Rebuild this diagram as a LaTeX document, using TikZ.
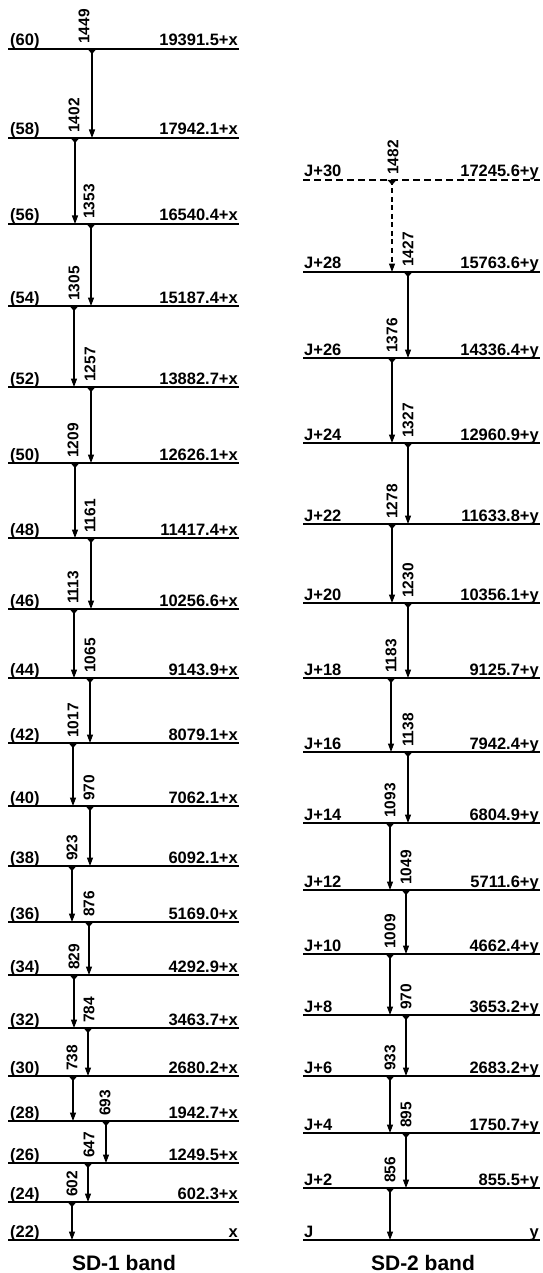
\documentclass[tikz,border=0pt]{standalone}
\usepackage{fontspec}
\setmainfont{Liberation Sans}
\usetikzlibrary{arrows.meta}
\tikzset{
  lvl/.style={line width=1.6pt},
  lvldash/.style={line width=1.6pt, dash pattern=on 7pt off 4pt},
  lvllab/.style={inner sep=0pt, font=\fontsize{16.5}{18}\selectfont\bfseries},
  trans/.style={line width=1.1pt, -{Triangle[width=6pt,length=8.5pt]}},
  transdash/.style={trans, dash pattern=on 5pt off 3.5pt},
  marker/.style={fill=black},
  tlab/.style={inner sep=0pt, rotate=90, anchor=west, font=\fontsize{15.5}{17}\selectfont\bfseries},
  title/.style={inner sep=0pt, font=\fontsize{21}{24}\selectfont\bfseries}
}
\begin{document}
\begin{tikzpicture}[x=1pt,y=-1pt]
\useasboundingbox (0,0) rectangle (542,1273);
% ---- SD-1 band levels
\foreach \n/\yy/\e in {60/49/19391.5+x,58/138/17942.1+x,56/224/16540.4+x,54/306/15187.4+x,
  52/387/13882.7+x,50/463/12626.1+x,48/538/11417.4+x,46/609/10256.6+x,44/678/9143.9+x,
  42/743/8079.1+x,40/806/7062.1+x,38/866/6092.1+x,36/922/5169.0+x,34/975/4292.9+x,
  32/1028/3463.7+x,30/1076/2680.2+x,28/1121/1942.7+x,26/1163/1249.5+x,24/1202/602.3+x,22/1240/x}{
  \coordinate (La\n) at (8,\yy);
  \coordinate (Lb\n) at (239,\yy);
  \draw[lvl] (La\n) -- (Lb\n);
  \node[lvllab, anchor=base west] (Ln\n) at ([xshift=2pt,yshift=3pt]La\n) {(\n)};
  \node[lvllab, anchor=base east] (Le\n) at ([xshift=-1pt,yshift=3pt]Lb\n) {\e};
}
% ---- SD-1 band transitions
\foreach \lab/\xx/\ya/\yb/\lx in {1449/92/49/138/84,1402/75/138/224/74,1353/91/224/306/89,
  1305/74/306/387/74,1257/91/387/463/90,1209/75/463/538/73,1161/91/538/609/90,1113/74/609/678/73,
  1065/90/678/743/90,1017/73/743/806/73,970/90/806/866/89,923/72/866/922/72,876/89/922/975/89,
  829/74/975/1028/74,784/88/1028/1076/89,738/73/1076/1121/72,693/106/1121/1163/105,
  647/88/1163/1202/89,602/72/1202/1240/72}{
  \coordinate (Ls\lab) at (\xx,\ya);
  \coordinate (Lt\lab) at (\xx,\yb);
  \draw[trans] (Ls\lab) -- (Lt\lab);
  \fill[marker] ([xshift=-4.5pt]Ls\lab) -- ([xshift=4.5pt]Ls\lab) -- ([yshift=-5pt]Ls\lab) -- cycle;
  \node[tlab] (Lx\lab) at (\lx,\ya-5) {\lab};
}
% ---- SD-2 band levels
\coordinate (RaJ30) at (303,180);
\coordinate (RbJ30) at (540,180);
\draw[lvldash] (RaJ30) -- (RbJ30);
\node[lvllab, anchor=base west] (RnJ30) at ([xshift=1pt,yshift=3pt]RaJ30) {J+30};
\node[lvllab, anchor=base east] (ReJ30) at ([xshift=-1pt,yshift=3pt]RbJ30) {17245.6+y};
\foreach \n/\yy/\e in {28/272/15763.6+y,26/358/14336.4+y,24/443/12960.9+y,22/524/11633.8+y,
  20/603/10356.1+y,18/678/9125.7+y,16/752/7942.4+y,14/823/6804.9+y,12/890/5711.6+y,
  10/954/4662.4+y,8/1015/3653.2+y,6/1076/2683.2+y,4/1133/1750.7+y,2/1188/855.5+y}{
  \coordinate (RaJ\n) at (303,\yy);
  \coordinate (RbJ\n) at (540,\yy);
  \draw[lvl] (RaJ\n) -- (RbJ\n);
  \node[lvllab, anchor=base west] (RnJ\n) at ([xshift=1pt,yshift=3pt]RaJ\n) {J+\n};
  \node[lvllab, anchor=base east] (ReJ\n) at ([xshift=-1pt,yshift=3pt]RbJ\n) {\e};
}
\coordinate (RaJ0) at (303,1240);
\coordinate (RbJ0) at (540,1240);
\draw[lvl] (RaJ0) -- (RbJ0);
\node[lvllab, anchor=base west] (RnJ0) at ([xshift=1pt,yshift=3pt]RaJ0) {J};
\node[lvllab, anchor=base east] (ReJ0) at ([xshift=-1pt,yshift=3pt]RbJ0) {y};
% ---- SD-2 band transitions
\coordinate (Rs1482) at (392,180);
\coordinate (Rt1482) at (392,272);
\draw[transdash] (Rs1482) -- (Rt1482);
\fill[marker] ([xshift=-4.5pt]Rs1482) -- ([xshift=4.5pt]Rs1482) -- ([yshift=-5pt]Rs1482) -- cycle;
\node[tlab] (Rx1482) at (393,175) {1482};
\foreach \lab/\xx/\ya/\yb in {1427/408/272/358,1376/392/358/443,1327/408/443/524,1278/392/524/603,
  1230/408/603/678,1183/391/678/752,1138/408/752/823,1093/390/823/890,1049/406/890/954,
  1009/390/954/1015,970/406/1015/1076,933/390/1076/1133,895/406/1133/1188,856/390/1188/1240}{
  \coordinate (Rs\lab) at (\xx,\ya);
  \coordinate (Rt\lab) at (\xx,\yb);
  \draw[trans] (Rs\lab) -- (Rt\lab);
  \fill[marker] ([xshift=-4.5pt]Rs\lab) -- ([xshift=4.5pt]Rs\lab) -- ([yshift=-5pt]Rs\lab) -- cycle;
  \node[tlab] (Rx\lab) at (\xx,\ya-5) {\lab};
}
% ---- titles
\node[title] (t1) at (124,1263) {SD-1 band};
\node[title] (t2) at (423,1263) {SD-2 band};
\end{tikzpicture}
\end{document}
